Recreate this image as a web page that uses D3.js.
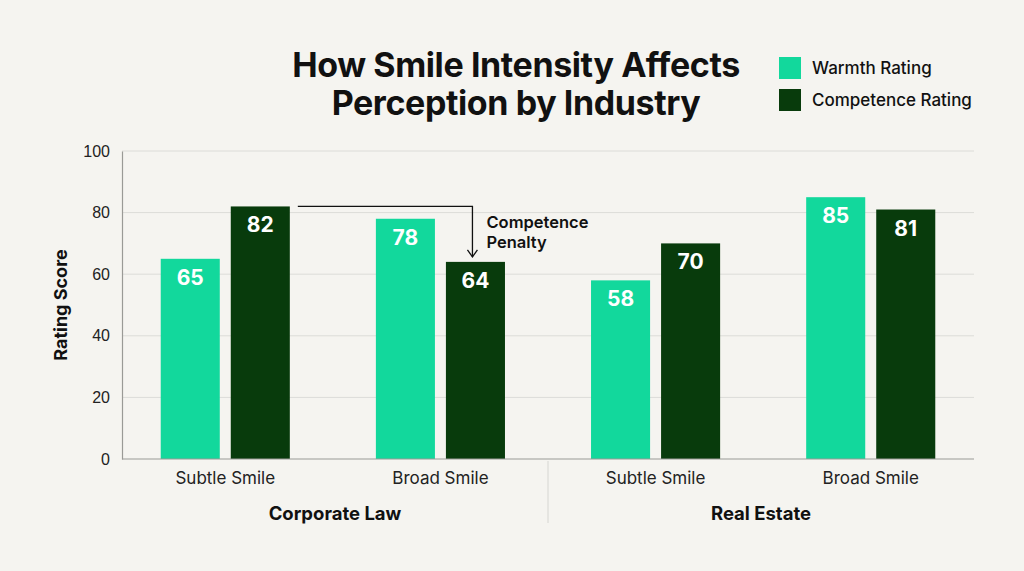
<!DOCTYPE html>
<html>
<head>
<meta charset="utf-8">
<script src="https://cdn.jsdelivr.net/npm/d3@7"></script>
<style>
  body { margin: 0; background: #f5f4f0; }
  svg { display: block; font-family: Inter, "Noto Sans", sans-serif; }
  .tick text { font-size: 16px; fill: #222; }
</style>
</head>
<body>
<div id="chart"></div>
<script>
var svgWidth = 1024;
var svgHeight = 571;

// data
var industries = ["Corporate Law", "Real Estate"];
var smiles = ["Subtle Smile", "Broad Smile"];
var seriesNames = ["Warmth Rating", "Competence Rating"];
var warmth = [65, 78, 58, 85];
var competence = [82, 64, 70, 81];
var yTicks = [0, 20, 40, 60, 80, 100];

var colors = ["#12d89c", "#083b0c"];

var margin = { top: 151, right: 50, bottom: 112, left: 122 };
var width = svgWidth - margin.left - margin.right;
var height = svgHeight - margin.top - margin.bottom;

var groups = [];
industries.forEach(function(ind, i) {
  smiles.forEach(function(s, j) {
    var k = i * smiles.length + j;
    groups.push({ key: ind + "|" + s, industry: ind, smile: s, values: [warmth[k], competence[k]] });
  });
});

var svg = d3.select("#chart")
  .append("svg")
  .attr("width", svgWidth)
  .attr("height", svgHeight);

svg.append("rect").attr("width", svgWidth).attr("height", svgHeight).attr("fill", "#f5f4f0");

var chartGroup = svg.append("g")
  .attr("transform", `translate(${margin.left}, ${margin.top})`);

var x0 = d3.scaleBand()
  .domain(groups.map(d => d.key))
  .range([0, width])
  .paddingInner(0.4)
  .paddingOuter(0.18);

var x1 = d3.scaleBand()
  .domain(seriesNames)
  .range([0, x0.bandwidth()])
  .paddingInner(0.157);

var y = d3.scaleLinear()
  .domain([0, 100])
  .range([height, 0]);

// gridlines
chartGroup.append("g")
  .selectAll("line")
  .data(yTicks.filter(t => t > 0))
  .enter()
  .append("line")
  .attr("x1", 0)
  .attr("x2", width)
  .attr("y1", d => y(d))
  .attr("y2", d => y(d))
  .attr("stroke", "#dcdcd8")
  .attr("stroke-width", 1);

// y axis
var leftAxis = d3.axisLeft(y).tickValues(yTicks).tickSize(0).tickPadding(12);
var yAxisGroup = chartGroup.append("g").call(leftAxis);
yAxisGroup.select(".domain").attr("stroke", "#9a9a96").attr("stroke-width", 1.2);

// bars
var barGroups = chartGroup.selectAll(".group")
  .data(groups)
  .enter()
  .append("g")
  .attr("transform", d => `translate(${x0(d.key)}, 0)`);

barGroups.selectAll("rect")
  .data(d => d.values.map((v, i) => ({ name: seriesNames[i], value: v, idx: i })))
  .enter()
  .append("rect")
  .attr("x", d => x1(d.name))
  .attr("y", d => y(d.value))
  .attr("width", x1.bandwidth())
  .attr("height", d => height - y(d.value))
  .attr("fill", d => colors[d.idx]);

barGroups.selectAll("text.val")
  .data(d => d.values.map((v, i) => ({ name: seriesNames[i], value: v })))
  .enter()
  .append("text")
  .attr("class", "val")
  .attr("x", d => x1(d.name) + x1.bandwidth() / 2)
  .attr("y", d => y(d.value) + 26)
  .attr("text-anchor", "middle")
  .attr("fill", "#ffffff")
  .style("font-size", "21px")
  .style("font-weight", "700")
  .text(d => d.value);

// x axis baseline
chartGroup.append("line")
  .attr("x1", 0)
  .attr("x2", width)
  .attr("y1", height)
  .attr("y2", height)
  .attr("stroke", "#9a9a96")
  .attr("stroke-width", 1.2);

// smile labels
chartGroup.selectAll(".smileLabel")
  .data(groups)
  .enter()
  .append("text")
  .attr("x", d => x0(d.key) + x0.bandwidth() / 2)
  .attr("y", height + 25)
  .attr("text-anchor", "middle")
  .attr("fill", "#222")
  .style("font-size", "17px")
  .text(d => d.smile);

// industry labels and separator
var indWidth = width / industries.length;
chartGroup.selectAll(".indLabel")
  .data(industries)
  .enter()
  .append("text")
  .attr("x", (d, i) => indWidth * i + indWidth / 2)
  .attr("y", height + 61)
  .attr("text-anchor", "middle")
  .attr("fill", "#111")
  .style("font-size", "18.5px")
  .style("font-weight", "700")
  .text(d => d);

chartGroup.append("line")
  .attr("x1", indWidth)
  .attr("x2", indWidth)
  .attr("y1", height + 2)
  .attr("y2", height + 64)
  .attr("stroke", "#d6d6d2")
  .attr("stroke-width", 1);

// y axis label
chartGroup.append("text")
  .attr("transform", "rotate(-90)")
  .attr("x", -height / 2)
  .attr("y", -margin.left + 67)
  .attr("text-anchor", "middle")
  .attr("fill", "#111")
  .style("font-size", "18px")
  .style("font-weight", "700")
  .text("Rating Score");

// annotation: competence penalty
var from = groups[0], to = groups[1];
var ax0 = x0(from.key) + x1(seriesNames[1]) + x1.bandwidth() + 8;
var ax1 = x0(to.key) + x1(seriesNames[1]) + x1.bandwidth() / 2 - 3;
var ay0 = y(from.values[1]);
var ay1 = y(to.values[1]) - 5;

chartGroup.append("path")
  .attr("d", `M${ax0},${ay0} H${ax1} V${ay1}`)
  .attr("fill", "none")
  .attr("stroke", "#111")
  .attr("stroke-width", 1.3);
chartGroup.append("path")
  .attr("d", `M${ax1 - 5},${ay1 - 7} L${ax1},${ay1} L${ax1 + 5},${ay1 - 7}`)
  .attr("fill", "none")
  .attr("stroke", "#111")
  .attr("stroke-width", 1.3);

var note = chartGroup.append("text")
  .attr("x", ax1 + 14)
  .attr("y", ay0 + 22)
  .attr("fill", "#111")
  .style("font-size", "16.5px")
  .style("font-weight", "600");
note.append("tspan").attr("x", ax1 + 14).text("Competence");
note.append("tspan").attr("x", ax1 + 14).attr("dy", 20).text("Penalty");

// title
var title = svg.append("text")
  .attr("x", 516)
  .attr("y", 77)
  .attr("text-anchor", "middle")
  .attr("fill", "#111")
  .style("font-size", "34px")
  .style("font-weight", "700")
  .style("letter-spacing", "-0.4px");
title.append("tspan").attr("x", 516).text("How Smile Intensity Affects");
title.append("tspan").attr("x", 516).attr("dy", 38).text("Perception by Industry");

// legend
var legend = svg.append("g").attr("transform", "translate(779, 57)");
var items = legend.selectAll("g")
  .data(seriesNames)
  .enter()
  .append("g")
  .attr("transform", (d, i) => `translate(0, ${i * 32})`);
items.append("rect")
  .attr("width", 22)
  .attr("height", 22)
  .attr("fill", (d, i) => colors[i]);
items.append("text")
  .attr("x", 33)
  .attr("y", 17)
  .attr("fill", "#111")
  .style("font-size", "17px")
  .style("font-weight", "500")
  .text(d => d);
</script>
</body>
</html>
